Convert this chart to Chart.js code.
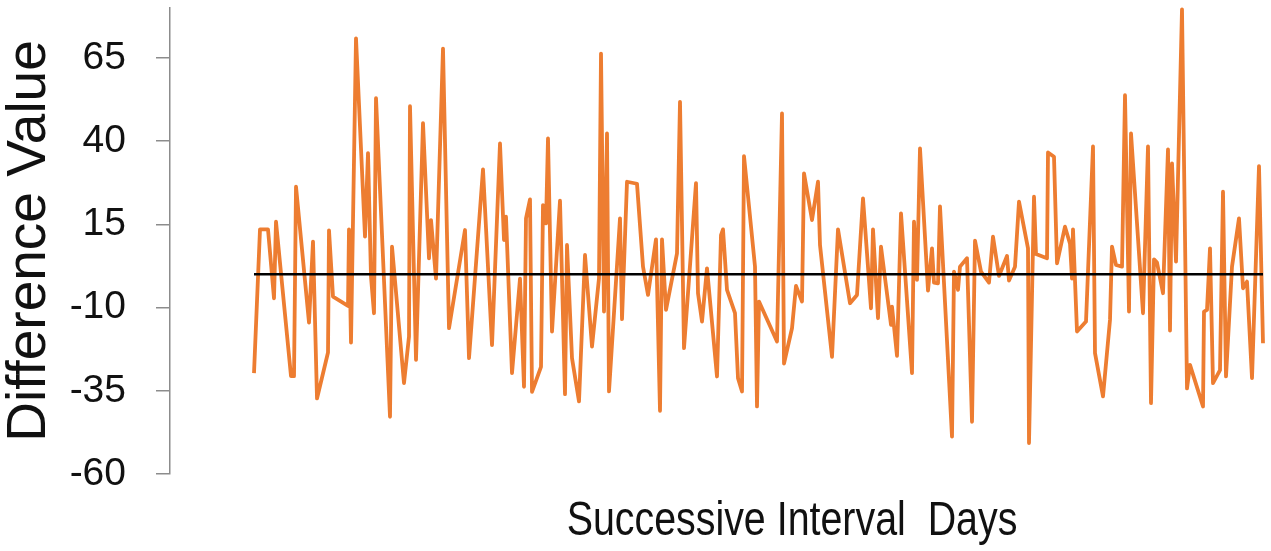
<!DOCTYPE html>
<html lang="en">

<head>
    <meta charset="UTF-8">
    <title>Difference Value</title>
    <script src="https://cdn.jsdelivr.net/npm/chart.js"></script>
</head>

<style>
    body {
        margin: 0;
        background: #fff;
    }

    .grafico_sty {
        width: 1271px;
        height: 551px;
    }
</style>

<body>

    <div class="grafico_sty">
        <canvas id="grafico_1" width="1271" height="551"></canvas>
    </div>

    <script>

        // successive interval (day index) where the line turns
        const dias = [
            0, 6, 14, 20, 22, 37, 40, 42, 55, 59, 63, 74, 75, 79, 94, 95, 97, 102,
            111, 114, 117, 120, 122, 136, 138, 150, 155, 156, 162, 169, 175, 177, 182, 189, 195,
            211, 215, 229, 238, 246, 250, 252, 258, 266, 270, 272, 276, 278, 287, 289, 292, 294, 298,
            306, 311, 313, 318, 325, 331, 338, 345, 347, 350, 353, 355, 366, 368, 373, 383, 389, 394,
            402, 406, 408, 412, 423, 426, 430, 442, 444, 448, 453, 463, 467, 469, 473, 481, 484, 488, 490,
            501, 503, 505, 523, 528, 530, 538, 542, 548, 550, 558, 564, 566, 578, 584, 596,
            603, 609, 617, 619, 624, 627, 637, 638, 643, 647, 658, 660, 663, 666, 674, 678, 680, 684, 686, 698,
            700, 704, 706, 713, 718, 721, 727, 735, 739, 745, 753, 755, 761, 765, 774, 775, 780, 782, 793, 794,
            800, 803, 811, 816, 818, 819, 823, 832, 839, 841, 849, 856, 858, 862, 868, 871, 875, 877, 889, 894, 897,
            900, 903, 909, 914, 916, 918, 922, 928, 933, 936, 949, 950, 953, 956, 959, 966, 969, 972, 978, 985, 989, 993, 998,
            1005, 1009
        ];

        // difference value at each of those days
        const valores = [
            -29.7, 13.5, 13.5, -7.2, 15.8, -30.6, -30.6, 26.3, -14.5, 9.8, -37.3, -23.5, 13.2, -6.7, -9.5, 13.5, -20.5, 70.9,
            11.3, 36.4, -0.7, -11.7, 52.9, -42.8, 8.3, -32.7, -18.7, 50.5, -25.7, 45.4, 4.8, 16.3, -1.3, 67.8, -16.2,
            13.3, -25.2, 31.5, -21.3, 39.3, 10.3, 17.3, -29.7, -1.3, -33.8, 16.8, 22.5, -35.3, -27.8, 20.8, 15.3, 40.8, -17.2,
            22.1, -36.0, 8.8, -25.2, -38.2, 5.8, -21.7, -1.2, 66.3, -11.2, 42.3, -35.2, 16.8, -13.5, 27.8, 27.2, 2.3, -6.2,
            10.5, -41.0, 10.5, -10.7, 6.3, 51.8, -22.2, 27.4, -5.7, -14.2, 1.8, -30.7, 11.8, 13.5, -4.7, -11.7, -31.2, -35.2, 35.5,
            2.3, -39.7, -8.2, -20.2, 48.3, -26.8, -16.2, -3.5, -8.2, 30.3, 16.3, 27.8, 8.8, -24.8, 13.5, -8.7,
            -6.2, 22.8, -10.2, 13.5, -13.2, 8.3, -15.2, -9.7, -24.5, 18.3, -29.7, 15.8, -1.7, 37.8, -4.9, 7.8, -2.5, -2.7, 20.4, -48.8,
            0.8, -4.7, 2.3, 4.8, -44.3, 10.1, 0.8, -2.5, 11.3, -0.5, 5.5, -1.9, 2.3, 21.8, 7.8, -50.7, 23.3, 6.1, 4.8, 36.6,
            35.3, 3.3, 14.3, 9.2, -1.3, 13.5, -17.2, -14.2, 38.4, -23.7, -36.7, -13.7, 8.3, 2.8, 2.3, 53.8, -11.2, 42.3, -11.7, 38.4, -38.7,
            4.5, 3.5, -5.7, 37.5, -16.9, 33.3, 3.8, 79.6, -34.3, -27.2, -39.7, -11.2, -10.7, 7.8, -32.7, -28.8, 24.8, -30.7, 2.3, 16.8, -4.2, -2.2, -31.2,
            32.5, -20.7
        ];

        const ticksY = [-60, -35, -10, 15, 40, 65];
        const nivelRef = 0;   // black reference line

        const tituloY = 'Difference Value';
        const tituloX = 'Successive Interval  Days';

        const serie = dias.map((d, i) => ({ x: d, y: valores[i] }));
        const linhaRef = [
            { x: dias[0], y: nivelRef },
            { x: dias[dias.length - 1], y: nivelRef }
        ];

        // x axis label sits off-centre (and narrow) in the original, draw it by hand
        const rotuloX = {
            id: 'rotuloX',
            afterDraw(chart) {
                const c = chart.ctx;
                c.save();
                c.translate(792, 522);
                c.scale(0.82, 1);
                c.font = '48px "Liberation Sans", sans-serif';
                c.fillStyle = '#111';
                c.textAlign = 'center';
                c.textBaseline = 'middle';
                c.fillText(tituloX, 0, 0);
                c.restore();
            }
        };

        const ctx = document.getElementById('grafico_1');

        const grafico_1 = new Chart(ctx, {
            type: 'line',
            data: {
                datasets: [{
                    data: linhaRef,
                    borderColor: '#000',
                    borderWidth: 2.5,
                    pointRadius: 0,
                    order: 0
                }, {
                    data: serie,
                    borderColor: '#ED7D31',
                    borderWidth: 3.8,
                    borderJoinStyle: 'round',
                    pointRadius: 0,
                    tension: 0,
                    clip: false,
                    order: 1
                }]
            },
            options: {
                responsive: false,
                animation: false,
                layout: {
                    padding: { left: 0, right: 8, top: 8, bottom: 77 }
                },
                plugins: {
                    legend: { display: false },
                    tooltip: { enabled: false }
                },
                scales: {
                    x: {
                        type: 'linear',
                        display: false,
                        min: -84,
                        max: 1009
                    },
                    y: {
                        min: -60,
                        max: 80,
                        afterFit(scale) {
                            scale.width = 170;
                            scale.paddingTop = 0;
                            scale.paddingBottom = 0;
                        },
                        afterBuildTicks(scale) { scale.ticks = ticksY.map(v => ({ value: v })); },
                        border: { display: true, color: '#8c8c8c', width: 1.5 },
                        grid: {
                            drawOnChartArea: false,
                            drawTicks: true,
                            tickLength: 14,
                            color: '#8c8c8c',
                            lineWidth: 1.5
                        },
                        ticks: {
                            color: '#111',
                            padding: 30,
                            font: { family: '"Liberation Sans", sans-serif', size: 39 }
                        },
                        title: {
                            display: true,
                            text: tituloY,
                            color: '#111',
                            padding: 0,
                            font: { family: '"Liberation Sans", sans-serif', size: 55, lineHeight: 1.1 }
                        }
                    }
                }
            },
            plugins: [rotuloX]
        });

    </script>

</body>

</html>
